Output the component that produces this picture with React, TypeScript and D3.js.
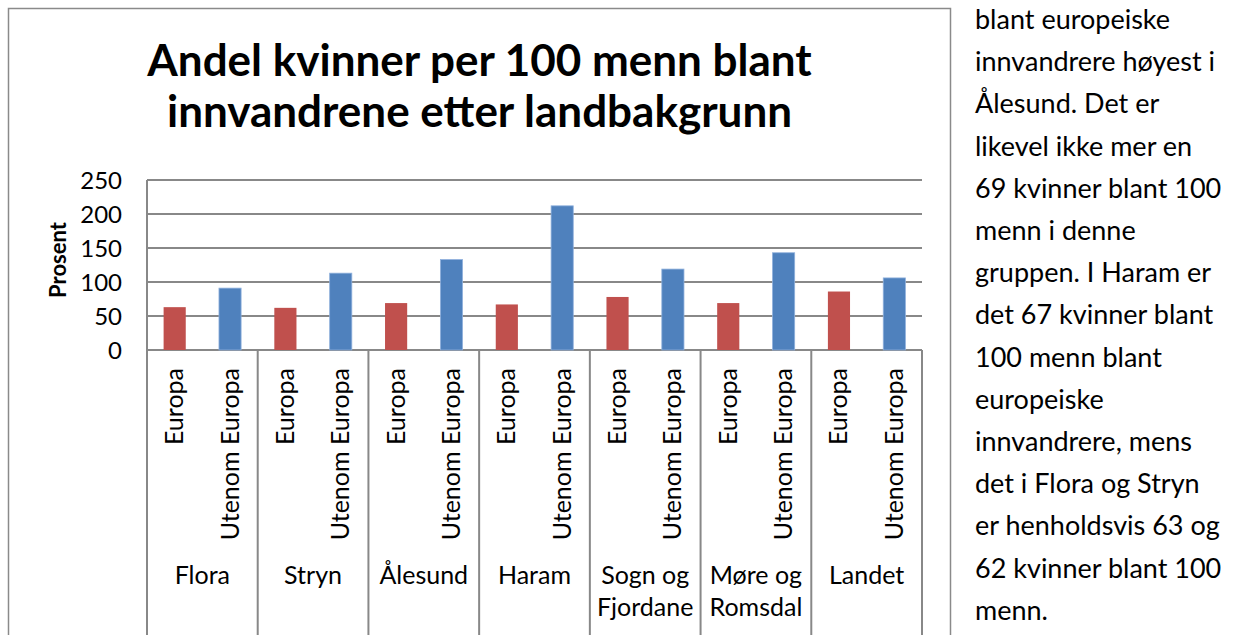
import React from "react";
import * as d3 from "d3";

const regions = ["Flora", "Stryn", "Ålesund", "Haram", "Sogn og\nFjordane", "Møre og\nRomsdal", "Landet"];
const seriesNames = ["Europa", "Utenom Europa"];
const europa = [63, 62, 69, 67, 78, 69, 86];
const utenomEuropa = [91, 113, 133, 212, 119, 143, 106];
const yTicks = [0, 50, 100, 150, 200, 250];
const titleLines = ["Andel kvinner per 100 menn blant", "innvandrene etter landbakgrunn"];
const paragraph = [
  "blant europeiske",
  "innvandrere høyest i",
  "Ålesund. Det er",
  "likevel ikke mer en",
  "69 kvinner blant 100",
  "menn i denne",
  "gruppen. I Haram er",
  "det 67 kvinner blant",
  "100 menn blant",
  "europeiske",
  "innvandrere, mens",
  "det i Flora og Stryn",
  "er henholdsvis 63 og",
  "62 kvinner blant 100",
  "menn.",
];

const colors = ["#C0504D", "#4F81BD"];
const FONT = "Lato, 'Open Sans', sans-serif";

const App = () => {
  const width = 1233;
  const height = 635;
  const left = 147;
  const right = 922;
  const top = 180;
  const bottom = 350;

  const x0 = d3.scaleBand<string>().domain(regions).range([left, right]);
  const x1 = d3
    .scaleBand<string>()
    .domain(seriesNames)
    .range([0, x0.bandwidth()])
    .paddingInner(0.6)
    .paddingOuter(0.3);
  const y = d3.scaleLinear().domain([0, 250]).range([bottom, top]);

  const values = [europa, utenomEuropa];
  const chartCenter = (8 + 951) / 2;

  return (
    <svg
      width={width}
      height={height}
      style={{ position: "absolute", left: 0, top: 0, background: "#fff" }}
      fontFamily={FONT}
    >
      {/* chart frame */}
      <rect x={8.5} y={8.5} width={942} height={700} fill="#fff" stroke="#8a8a8a" strokeWidth={1.5} />

      {/* title */}
      {titleLines.map((t, i) => (
        <text
          key={t}
          x={chartCenter}
          y={76 + i * 51}
          textAnchor="middle"
          fontSize={44}
          fontWeight="bold"
          fill="#000"
        >
          {t}
        </text>
      ))}

      {/* gridlines */}
      {yTicks.map((t) => (
        <line key={t} x1={left} x2={right} y1={y(t)} y2={y(t)} stroke="#888" strokeWidth={2} />
      ))}
      {yTicks.map((t) => (
        <text key={"l" + t} x={122} y={y(t) + 8.5} textAnchor="end" fontSize={24} fill="#000">
          {t}
        </text>
      ))}
      <line x1={left} x2={left} y1={top} y2={height + 10} stroke="#888" strokeWidth={2} />

      {/* y axis title */}
      <text
        transform={`translate(66,260) rotate(-90)`}
        textAnchor="middle"
        fontSize={22}
        fontWeight="bold"
        fill="#000"
      >
        Prosent
      </text>

      {/* bars */}
      {regions.map((r, i) => (
        <g key={r} transform={`translate(${x0(r)},0)`}>
          {seriesNames.map((s, j) => (
            <rect
              key={s}
              x={x1(s)}
              y={y(values[j][i])}
              width={x1.bandwidth()}
              height={bottom - y(values[j][i])}
              fill={colors[j]}
              stroke={j === 1 ? "#8fb0dc" : "none"}
              strokeWidth={0.8}
            />
          ))}
        </g>
      ))}

      {/* category separators */}
      {regions.map((r) => (
        <line
          key={"s" + r}
          x1={(x0(r) as number) + x0.bandwidth()}
          x2={(x0(r) as number) + x0.bandwidth()}
          y1={bottom}
          y2={height + 10}
          stroke="#888"
          strokeWidth={2}
        />
      ))}

      {/* series labels */}
      {regions.map((r) =>
        seriesNames.map((s) => {
          const cx = (x0(r) as number) + (x1(s) as number) + x1.bandwidth() / 2;
          return (
            <text
              key={r + s}
              transform={`translate(${cx + 8.5},368) rotate(-90)`}
              textAnchor="end"
              fontSize={25}
              fill="#000"
            >
              {s}
            </text>
          );
        })
      )}

      {/* region labels */}
      {regions.map((r) => {
        const cx = (x0(r) as number) + x0.bandwidth() / 2;
        return r.split("\n").map((line, k) => (
          <text key={r + k} x={cx} y={584 + k * 32} textAnchor="middle" fontSize={25} fill="#000">
            {line}
          </text>
        ));
      })}

      {/* side paragraph */}
      {paragraph.map((line, i) => (
        <text key={i} x={975} y={29 + i * 42.2} fontSize={27} fill="#000">
          {line}
        </text>
      ))}
    </svg>
  );
};

export default App;
